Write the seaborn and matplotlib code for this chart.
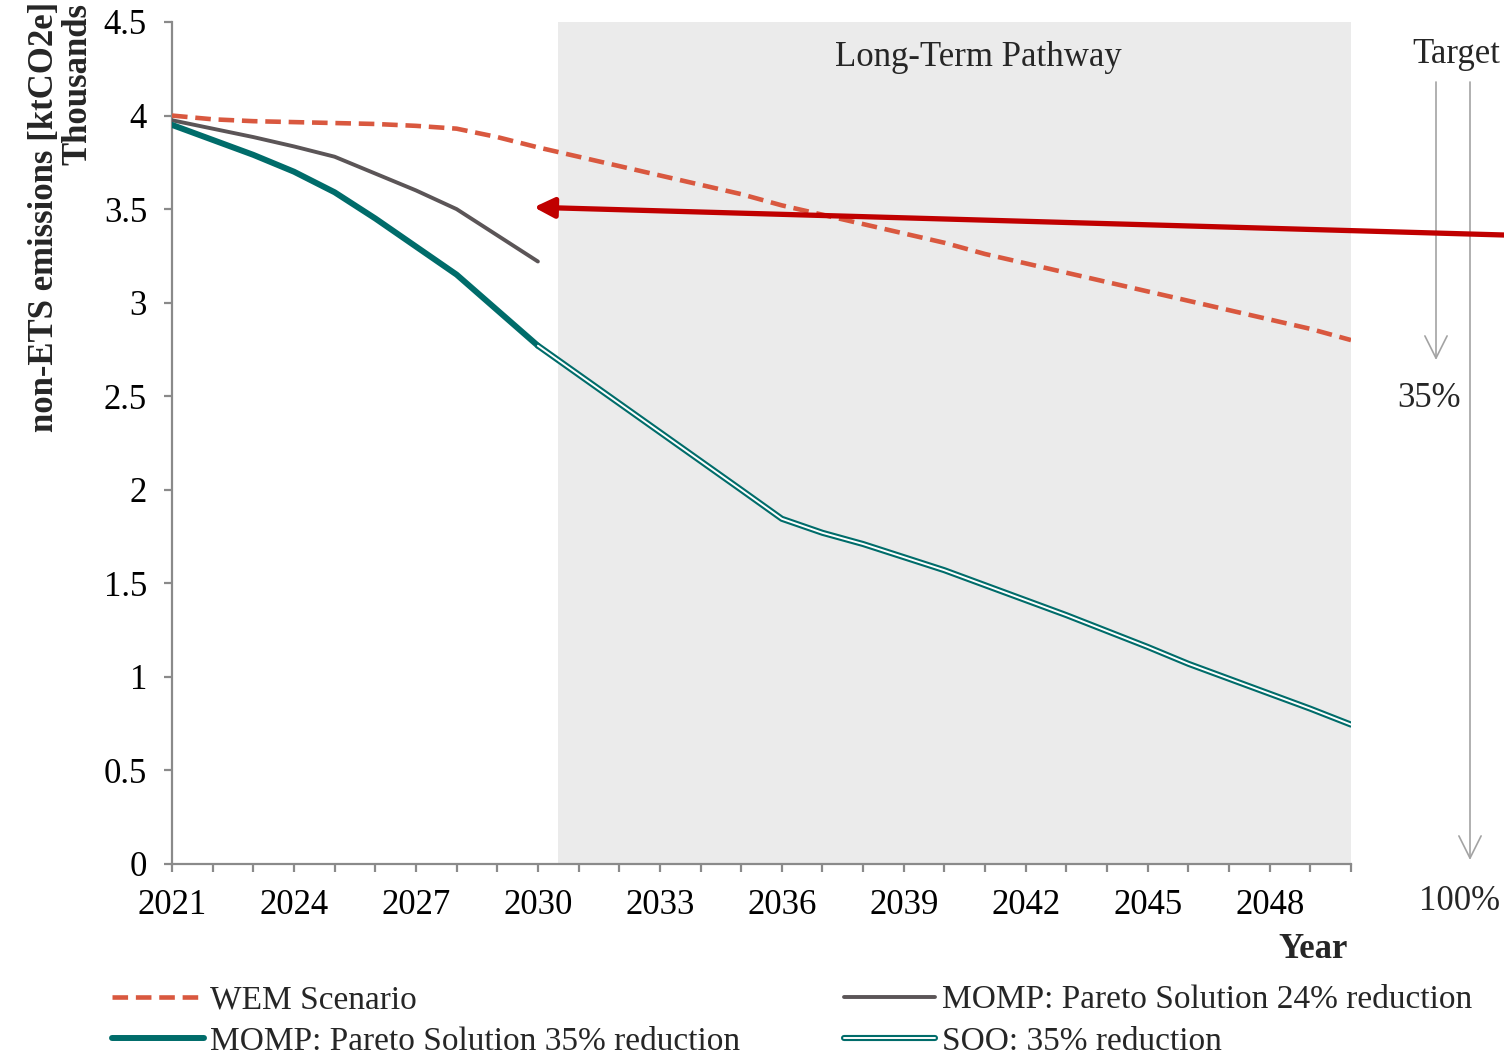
import numpy as np
import pandas as pd
import matplotlib
matplotlib.use("Agg")
import matplotlib.pyplot as plt
import matplotlib.patheffects as pe
import seaborn as sns

# ---------------- data ----------------
years_wem = list(range(2021, 2051))
years_momp = list(range(2021, 2031))
years_soo = list(range(2030, 2051))

wem = [4.00, 3.98, 3.97, 3.965, 3.96, 3.955, 3.945, 3.93, 3.885, 3.83,
       3.78, 3.73, 3.68, 3.63, 3.58, 3.52, 3.47, 3.42, 3.37, 3.32,
       3.26, 3.21, 3.16, 3.11, 3.06, 3.01, 2.96, 2.91, 2.86, 2.80]
momp24 = [3.975, 3.93, 3.885, 3.835, 3.78, 3.69, 3.60, 3.50, 3.36, 3.22]
momp35 = [3.95, 3.87, 3.79, 3.70, 3.59, 3.45, 3.30, 3.15, 2.96, 2.77]
soo = [2.77, 2.616, 2.462, 2.308, 2.154, 2.0, 1.845, 1.77, 1.71, 1.64,
       1.57, 1.49, 1.41, 1.33, 1.245, 1.16, 1.07, 0.99, 0.91, 0.83, 0.745]

labels = ["WEM Scenario", "MOMP: Pareto Solution 24% reduction",
          "MOMP: Pareto Solution 35% reduction", "SOO: 35% reduction"]
y_ticks = [0, 0.5, 1, 1.5, 2, 2.5, 3, 3.5, 4, 4.5]

# ---------------- style ----------------
sns.set_style("ticks")
plt.rcParams["font.family"] = ["Liberation Serif", "DejaVu Serif"]
FS = 25
plt.rcParams["font.size"] = FS

W, H = 1504, 1058
fig = plt.figure(figsize=(W / 100, H / 100), dpi=100)


def fx(px):
    return px / W


def fy(py):
    return 1 - py / H


ax = fig.add_axes([fx(172), fy(864), (1351 - 172) / W, (864 - 22) / H])

C_WEM = "#D9583F"
C_GRAY = "#5B5557"
C_TEAL = "#006C6A"
C_RED = "#C00000"
C_AX = "#8A8A8A"
C_TGT = "#A3A3A3"

# shaded long-term region
ax.axvspan(2030.5, 2050, color="#EBEBEB", zorder=0, lw=0)

df_wem = pd.DataFrame({"year": years_wem, "v": wem})
df_24 = pd.DataFrame({"year": years_momp, "v": momp24})
df_35 = pd.DataFrame({"year": years_momp, "v": momp35})
df_soo = pd.DataFrame({"year": years_soo, "v": soo})

sns.lineplot(data=df_wem, x="year", y="v", ax=ax, color=C_WEM, lw=3.3, zorder=3)
l_wem = ax.lines[-1]
l_wem.set_dashes((3.4, 1.7))
l_wem.set_dash_capstyle("butt")

sns.lineplot(data=df_24, x="year", y="v", ax=ax, color=C_GRAY, lw=2.8, zorder=3)
l_24 = ax.lines[-1]
l_24.set_solid_capstyle("round")

sns.lineplot(data=df_35, x="year", y="v", ax=ax, color=C_TEAL, lw=4.3, zorder=3)
l_35 = ax.lines[-1]

sns.lineplot(data=df_soo, x="year", y="v", ax=ax, color="white", lw=1.4, zorder=3)
l_soo = ax.lines[-1]
l_soo.set_path_effects([pe.Stroke(linewidth=4.4, foreground=C_TEAL), pe.Normal()])

# axes formatting
ax.set_xlim(2021, 2050)
ax.set_ylim(0, 4.5)
ax.set_xticks(years_wem)
ax.set_xticklabels([str(y) if (y - 2021) % 3 == 0 else "" for y in years_wem])
ax.set_yticks(y_ticks)
ax.set_yticklabels([f"{t:g}" for t in y_ticks])
ax.set_xlabel("")
ax.set_ylabel("")
for s in ["top", "right"]:
    ax.spines[s].set_visible(False)
for s in ["left", "bottom"]:
    ax.spines[s].set_color(C_AX)
    ax.spines[s].set_linewidth(1.6)
ax.tick_params(axis="both", direction="out", length=6, width=1.6, color=C_AX,
               labelsize=FS, labelcolor="black")
ax.tick_params(axis="x", pad=12)
ax.tick_params(axis="y", pad=12)

# region label
ax.text((978 - 172) / (1351 - 172), (864 - 66) / (864 - 22), "Long-Term Pathway",
        transform=ax.transAxes, ha="center", va="baseline", fontsize=FS, zorder=4)

# axis labels
fig.text(fx(45), fy(217), "non-ETS emissions [ktCO2e]", rotation=90,
         ha="center", va="center", fontsize=FS, fontweight="bold")
fig.text(fx(78), fy(84), "Thousands", rotation=90,
         ha="center", va="center", fontsize=FS, fontweight="bold")
fig.text(fx(1348), fy(958), "Year", ha="right", va="baseline",
         fontsize=FS, fontweight="bold")

# red arrow
ax.annotate("", xy=(2029.9, 3.51), xycoords="data",
            xytext=(1.0, fy(235)), textcoords="figure fraction",
            arrowprops=dict(arrowstyle="-|>", color=C_RED, lw=3.8,
                            mutation_scale=30, shrinkA=0, shrinkB=0),
            annotation_clip=False, zorder=6)

# target arrows
fig.text(fx(1456), fy(63), "Target", ha="center", va="baseline", fontsize=FS)
ax.annotate("", xy=(fx(1436), fy(360)), xycoords="figure fraction",
            xytext=(fx(1436), fy(82)), textcoords="figure fraction",
            arrowprops=dict(arrowstyle="->", color=C_TGT, lw=1.2,
                            mutation_scale=40, shrinkA=0, shrinkB=0),
            annotation_clip=False)
ax.annotate("", xy=(fx(1470), fy(860)), xycoords="figure fraction",
            xytext=(fx(1470), fy(82)), textcoords="figure fraction",
            arrowprops=dict(arrowstyle="->", color=C_TGT, lw=1.2,
                            mutation_scale=40, shrinkA=0, shrinkB=0),
            annotation_clip=False)
fig.text(fx(1429), fy(407), "35%", ha="center", va="baseline", fontsize=FS)
fig.text(fx(1460), fy(910), "100%", ha="center", va="baseline", fontsize=FS)

# legend (row-major order via column-wise fill)
handles = [l_wem, l_35, l_24, l_soo]
leg_labels = [labels[0], labels[2], labels[1], labels[3]]
fig.legend(handles, leg_labels, ncol=2, loc="upper left",
           bbox_to_anchor=(fx(112), fy(985)), frameon=False, fontsize=24,
           handlelength=2.75, handletextpad=0.2, columnspacing=3.1,
           labelspacing=0.33, borderpad=0, borderaxespad=0)

fig.savefig("out.png", dpi=100)
